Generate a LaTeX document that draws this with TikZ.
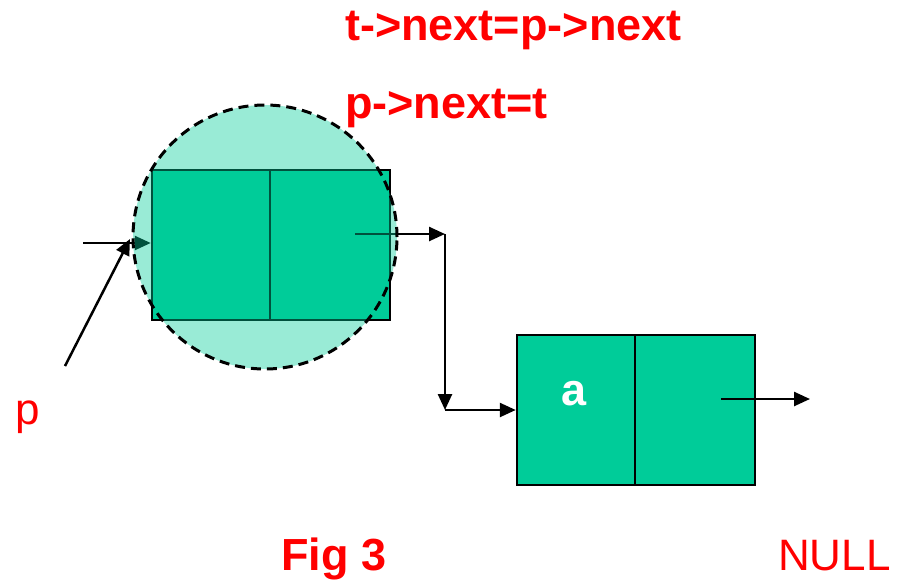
\documentclass[tikz,border=0pt]{standalone}
\usepackage{fontspec}
\setmainfont{Liberation Sans}
\usetikzlibrary{arrows.meta}
\definecolor{nodegreen}{HTML}{00CC99}
\definecolor{txtred}{HTML}{FF0000}
\begin{document}
\begin{tikzpicture}[x=1pt,y=-1pt,
  cell/.style={draw=black,line width=2.5pt,fill=nodegreen,minimum width=238pt,minimum height=150pt,inner sep=0pt},
  link/.style={line width=2.5pt,-{Triangle[length=16pt,width=14pt]}},
  divider/.style={line width=2.5pt},
  redbold/.style={text=txtred,font=\fontsize{45}{54}\selectfont\bfseries,anchor=base west,inner sep=0pt},
  redreg/.style={text=txtred,font=\fontsize{44}{52}\selectfont,anchor=base west,inner sep=0pt},
  focusring/.style={circle,draw=black,line width=3pt,dash pattern=on 10pt off 6pt,fill=nodegreen,fill opacity=0.4,draw opacity=1,minimum size=264pt,inner sep=0pt}]
\useasboundingbox (0,0) rectangle (900,582);
% first node
\node[cell] (n1) at (271,245) {};
\coordinate (d1t) at (270,170);
\coordinate (d1b) at (270,320);
\draw[divider] (d1t) -- (d1b);
% pointer into first node
\coordinate (pin) at (83,243);
\draw[link] (pin) -- (n1.west |- pin);
% next pointer of first node
\coordinate (s1) at (355,234);
\coordinate (c1) at (445,234);
\coordinate (c2) at (445,410);
\draw[link] (s1) -- (c1);
% highlight circle
\node[focusring] (focus) at (265,237) {};
% second node
\node[cell] (n2) at (636,410) {};
\coordinate (d2t) at (635,335);
\coordinate (d2b) at (635,485);
\draw[divider] (d2t) -- (d2b);
\draw[link] (c1) -- (c2);
\draw[link] (c2) -- (n2.west);
\coordinate (s2) at (721,399);
\coordinate (e2) at (810,399);
\draw[link] (s2) -- (e2);
% p pointer
\coordinate (ptail) at (65,366);
\coordinate (phead) at (130,239);
\draw[link] (ptail) -- (phead);
% texts
\node[redbold] (l1) at (345,40) {t->next=p->next};
\node[redbold] (l2) at (345,118) {p->next=t};
\node[redreg] (plab) at (15,424) {p};
\node[redbold,text=white] (alab) at (561,405) {a};
\node[redbold] (fig) at (281,570) {Fig 3};
\node[redreg] (null) at (778,570) {NULL};
\end{tikzpicture}
\end{document}
